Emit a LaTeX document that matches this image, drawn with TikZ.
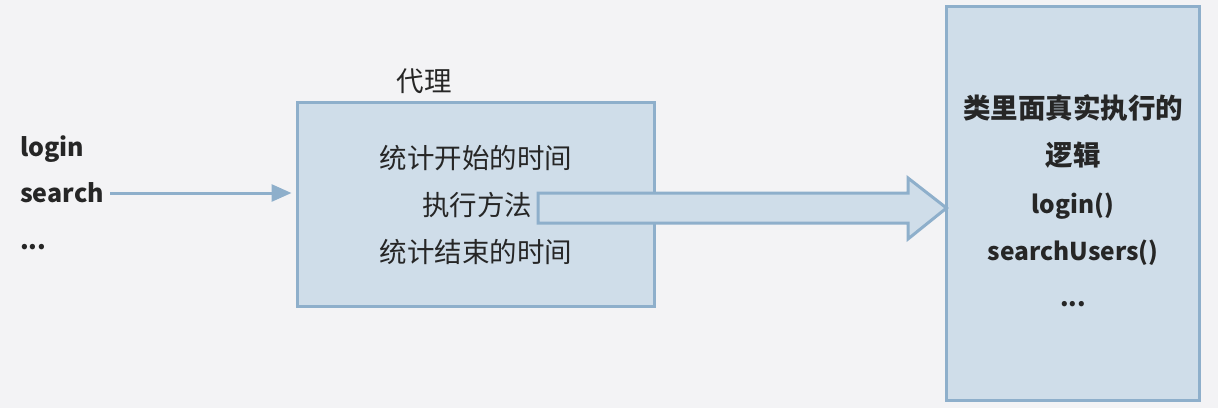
\documentclass[tikz,border=0pt]{standalone}
\usepackage{fontspec}
\setmainfont{Noto Sans CJK SC}
\usetikzlibrary{arrows.meta}
\definecolor{bgc}{HTML}{F3F3F5}
\definecolor{edgec}{HTML}{8EAFCB}
\definecolor{fillc}{HTML}{CFDDE9}
\definecolor{txtc}{HTML}{262626}
\begin{document}
\begin{tikzpicture}[x=1pt,y=-1pt,
  panel/.style={draw=edgec,fill=fillc,line width=3pt},
  box/.style={panel,inner sep=0pt,outer sep=0pt},
  reg/.style={text=txtc,font=\fontsize{27.5}{30}\selectfont,inner sep=0pt,anchor=base},
  bld/.style={text=txtc,font=\fontsize{27.5}{30}\selectfont\bfseries,inner sep=0pt,anchor=base},
  bldl/.style={text=txtc,font=\fontsize{24.5}{30}\selectfont\bfseries,inner sep=0pt,anchor=base},
  lat/.style={text=txtc,font=\fontsize{25}{30}\selectfont\bfseries,inner sep=0pt,anchor=base west}]
\fill[bgc] (0,0) rectangle (1218,408);
\useasboundingbox (0,0) rectangle (1218,408);
% boxes
\node[box,minimum width=357pt,minimum height=204pt] (proxy) at (476,204.5) {};
\node[box,minimum width=253pt,minimum height=394pt] (real) at (1073,203.5) {};
\coordinate (pw) at (proxy.west |- 0,193);
\coordinate (rw) at (real.west |- 0,208);
% labels of proxy
\node[reg] (plabel) at (424,91) {代理};
\node[reg] (p1) at (476,168) {统计开始的时间};
\node[reg] (p2) at (477,215) {执行方法};
\node[reg] (p3) at (476,262) {统计结束的时间};
% real class
\node[bld] (r1) at (1073,118) {类里面真实执行的};
\node[bld] (r2) at (1073,165) {逻辑};
\node[bldl] (r3) at (1073,213) {login()};
\node[bldl] (r4) at (1073,260) {searchUsers()};
\node[bldl] (r5) at (1073,306) {...};
% left calls
\node[lat] (l1) at (20,156) {login};
\node[lat] (l2) at (20,202) {search};
\node[lat] (l3) at (20,249) {...};
% small arrow
\draw[edgec,line width=3pt,shorten >=6pt,-{Triangle[length=20pt,width=17pt]}] (l2.east |- 0,193) ++(6,0) -- (pw);
% block arrow
\draw[panel,line join=miter] (538,193) -- (908,193) -- (908,178) -- (rw) -- (908,239) -- (908,223) -- (538,223) -- cycle;
\end{tikzpicture}
\end{document}
